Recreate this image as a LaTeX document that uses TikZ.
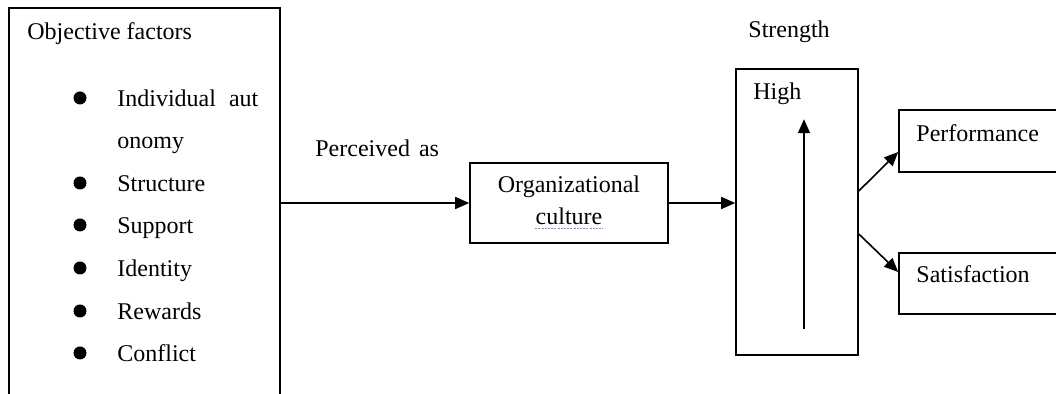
\documentclass[tikz,border=0pt]{standalone}
\usepackage{fontspec}
\setmainfont{Liberation Serif}
\usetikzlibrary{arrows.meta,calc}
\tikzset{
  box/.style={draw=black, line width=0.8pt, inner sep=0pt},
  arr/.style={draw=black, line width=0.8pt, -{Triangle[length=7pt,width=6pt]}},
  lbl/.style={anchor=base west, inner sep=0pt, font=\fontsize{12pt}{14pt}\selectfont},
  lblc/.style={anchor=base, inner sep=0pt, font=\fontsize{12pt}{14pt}\selectfont},
  dot/.style={fill=black, draw=none},
}
\begin{document}
\begin{tikzpicture}[x=0.5pt, y=-0.5pt]
\useasboundingbox[fill=white] (0,0) rectangle (1056,394);
\clip (0,0) rectangle (1056,394);
% boxes
\node[box, minimum width=135.5pt, minimum height=211pt] (left) at (144.5,219) {};
\node[box, minimum width=99pt, minimum height=40pt] (org) at (569,203) {};
\node[box, minimum width=61pt, minimum height=143pt] (str) at (797,212) {};
\node[box, minimum width=90.5pt, minimum height=31pt] (perf) at (989.5,141) {};
\node[box, minimum width=90.5pt, minimum height=30.5pt] (sat) at (989.5,283.5) {};
% left box texts
\node[lbl] (t0) at (27,40) {Objective factors};
\node[lbl] (t1) at (117,107) {Individual\hspace{6.5pt}aut};
\node[lbl] (t2) at (117,149) {onomy};
\node[lbl] (t3) at (117,192) {Structure};
\node[lbl] (t4) at (117,234) {Support};
\node[lbl] (t5) at (117,277) {Identity};
\node[lbl] (t6) at (117,320) {Rewards};
\node[lbl] (t7) at (117,362) {Conflict};
\foreach \yy in {98,183,225,268,311,353}{
  \fill[dot] (80,\yy) circle[radius=6.5];
}
% other labels
\node[lbl] (perc) at (315,157) {Perceived\hspace{1.5pt} as};
\node[lblc] (org1) at (569,193) {Organizational};
\node[lblc] (org2) at (569,225) {culture};
\draw[line width=0.5pt, draw={rgb,255:red,130;green,130;blue,210}, dash pattern=on 1pt off 0.6pt] ($(org2.base west)+(0,4)$) -- ($(org2.base east)+(0,4)$);
\node[lbl] (strl) at (748,38) {Strength};
\node[lbl] (high) at (753,100) {High};
\node[lbl] (perfl) at (916,142) {Performance};
\node[lbl] (satl) at (916,283) {Satisfaction};
% connectors
\draw[arr] (left.east |- org.west) -- (org.west);
\draw[arr] (org.east) -- (str.west |- org.east);
\draw[arr] ($(str.south)+(7,-27)$) coordinate (vb) -- ($(str.north)+(7,51)$) coordinate (vt);
\draw[arr] ($(str.east)+(0,-21)$) -- ($(perf.west)+(0,11)$);
\draw[arr] ($(str.east)+(0,22)$) -- ($(sat.west)+(0,-11.5)$);
\end{tikzpicture}
\end{document}
